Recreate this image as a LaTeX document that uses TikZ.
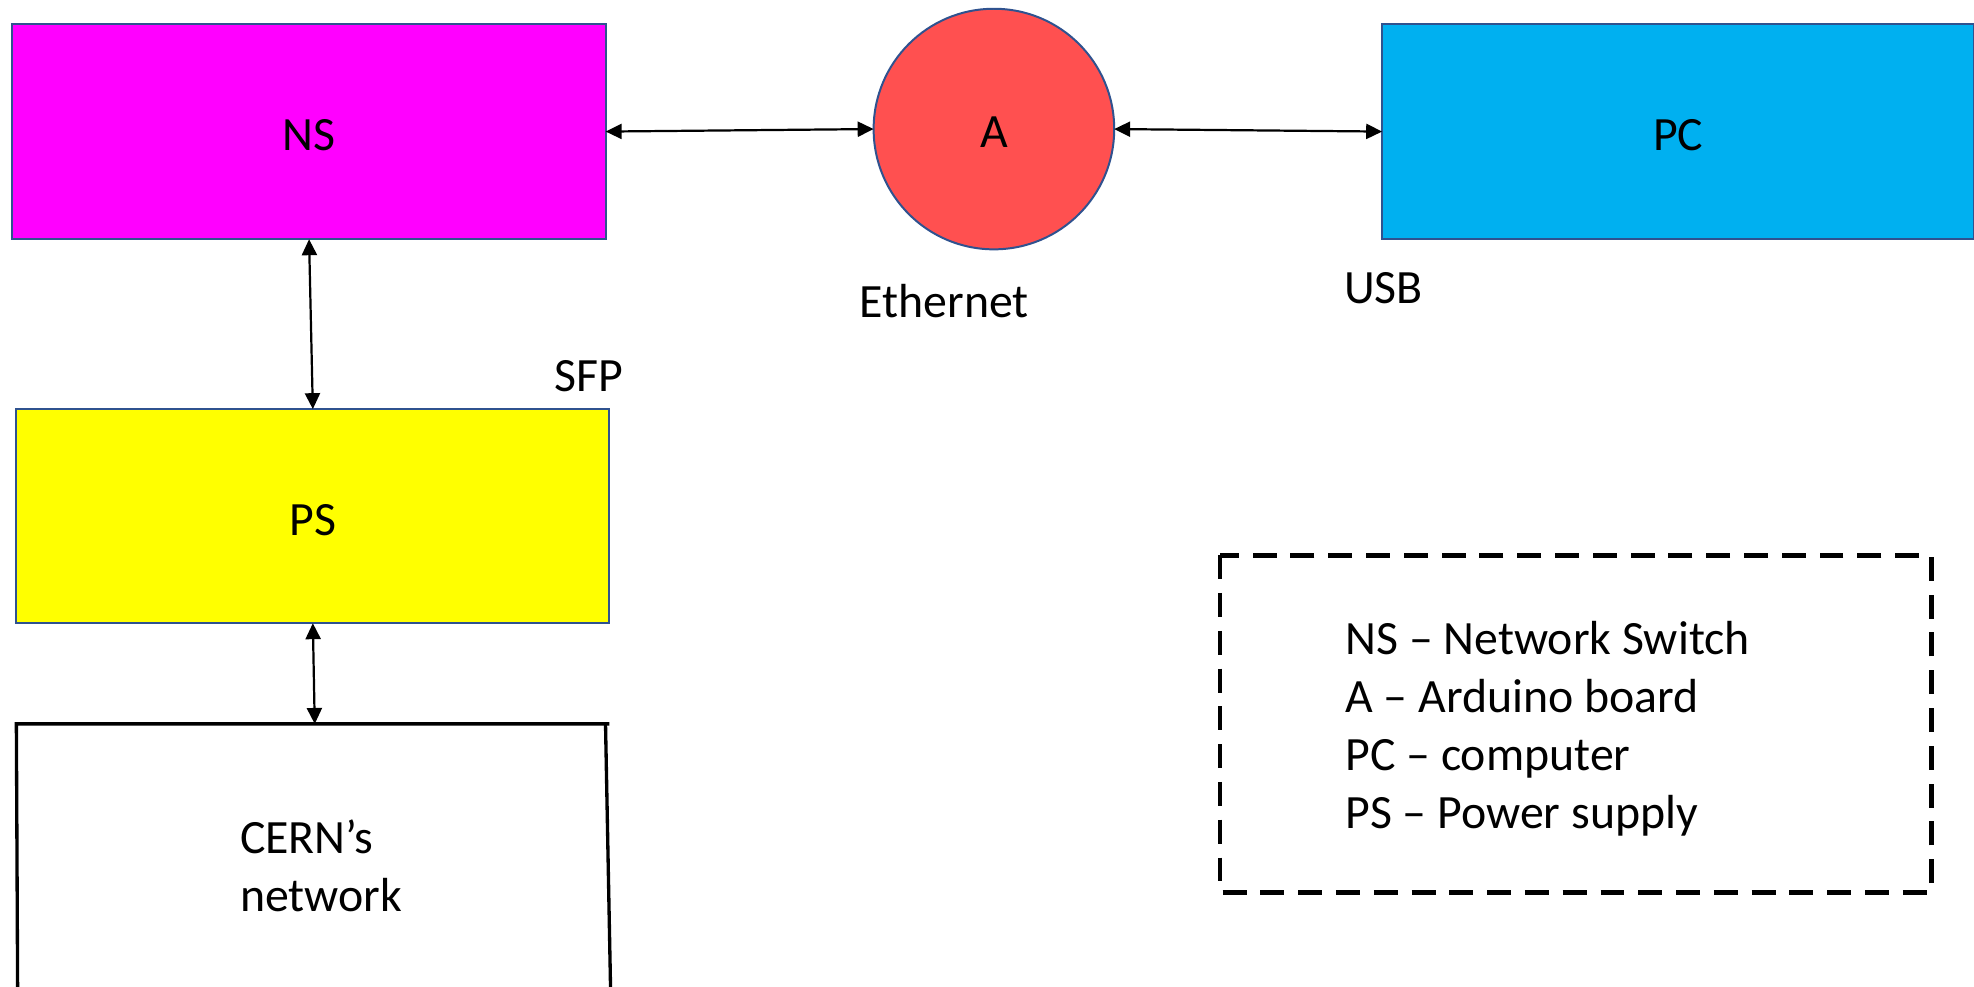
\documentclass[tikz,border=0pt]{standalone}
\usepackage{fontspec}
\setmainfont{Carlito}
\usetikzlibrary{arrows.meta}
\definecolor{nsmag}{RGB}{255,0,255}
\definecolor{ared}{RGB}{255,80,80}
\definecolor{pcblue}{RGB}{0,176,240}
\definecolor{psyel}{RGB}{255,255,0}
\definecolor{edge}{RGB}{47,82,143}
\tikzset{
  blockbox/.style={rectangle, draw=edge, line width=0.45pt, inner sep=0pt, outer sep=0pt},
  lbl/.style={font=\fontsize{10.8}{13.1}\selectfont, inner sep=0pt},
  conn/.style={line width=0.5pt, {Triangle[length=3.6pt,width=3.4pt]}-{Triangle[length=3.6pt,width=3.4pt]}},
  legendbox/.style={draw=black, line width=1.05pt, dash pattern=on 0.19cm off 0.11cm},
}
\begin{document}
\begin{tikzpicture}[x=0.01cm,y=-0.01cm]
\useasboundingbox (0,0) rectangle (1568,784);
% blocks
\node[blockbox, fill=nsmag, minimum width=4.71cm, minimum height=1.71cm] (NS) at (245.5,104.5) {};
\node[blockbox, fill=ared, circle, minimum size=1.91cm] (A) at (789.5,102.5) {};
\node[blockbox, fill=pcblue, minimum width=4.70cm, minimum height=1.71cm] (PC) at (1333,104.5) {};
\node[blockbox, fill=psyel, minimum width=4.71cm, minimum height=1.70cm] (PS) at (248.5,410) {};
\node[lbl] (NStext) at (245.5,107) {NS};
\node[lbl] (Atext) at (789.5,105) {A};
\node[lbl] (PCtext) at (1333,107) {PC};
\node[lbl] (PStext) at (248.5,413) {PS};
% CERN network open box
\coordinate (cerntop) at (250,575);
\draw[line width=0.75pt] (14,786) -- (13,575) -- (484,575);
\draw[line width=0.75pt] (481,576) -- (485,786);
\node[lbl, anchor=west, align=left] (CERN) at (190,688) {CERN’s\\network};
% connectors
\draw[conn] (NS.east) -- (A.west);
\draw[conn] (A.east) -- (PC.west);
\draw[conn] (NS.south) -- (PS.north);
\draw[conn] (PS.south) -- (cerntop);
% labels
\node[lbl] (eth) at (750,239) {Ethernet};
\node[lbl] (usb) at (1099,229) {USB};
\node[lbl] (sfp) at (468,299) {SFP};
% legend
\draw[legendbox] (969,441) rectangle (1534,709);
\node[lbl, anchor=west, align=left] (legend) at (1068,579) {NS – Network Switch\\A – Arduino board\\PC – computer\\PS – Power supply};
\end{tikzpicture}
\end{document}
